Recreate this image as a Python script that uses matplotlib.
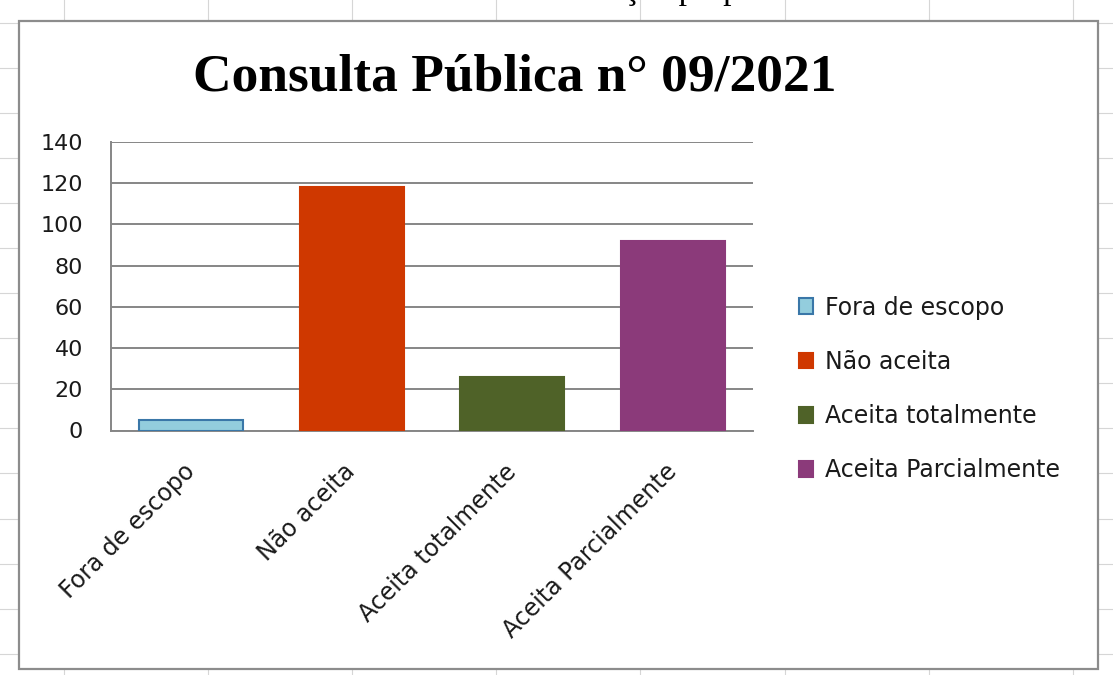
import numpy as np
import matplotlib
matplotlib.use('Agg')
import matplotlib.pyplot as plt
from matplotlib.patches import Rectangle
from matplotlib.lines import Line2D

# dados do gráfico
categorias = ['Fora de escopo', 'Não aceita', 'Aceita totalmente', 'Aceita Parcialmente']
valores = [5, 118, 26, 92]
cores = ['#93CDDD', '#CF3800', '#4F6228', '#8B3A7A']
bordas = ['#3A77A8', '#CF3800', '#4F6228', '#8B3A7A']
titulo = 'Consulta Pública n° 09/2021'
yticks = [0, 20, 40, 60, 80, 100, 120, 140]

W, H = 1113, 675
fig = plt.figure(figsize=(W / 100, H / 100), dpi=100)
fig.patch.set_facecolor('white')

# linhas da planilha no fundo
for yy in np.arange(22.5, H, 45.1):
    fig.add_artist(Line2D([0, 1], [1 - yy / H] * 2, transform=fig.transFigure,
                          color='#d6d6d6', lw=0.8, zorder=-5))
for xx in np.arange(64, W, 144.1):
    fig.add_artist(Line2D([xx / W] * 2, [0, 1], transform=fig.transFigure,
                          color='#d6d6d6', lw=0.8, zorder=-5))

# caixa do gráfico
fig.add_artist(Rectangle((19 / W, 1 - 669 / H), (1098 - 19) / W, (669 - 21) / H,
                         transform=fig.transFigure, facecolor='white',
                         edgecolor='#8c8c8c', lw=1.6, zorder=-1))

# texto cortado no topo (linha de cima da planilha, só aparecem as descendentes)
fig.text(624 / W, 1 + 1.5 / H, 'ção proposta', family='Liberation Serif',
         fontsize=24, ha='left', va='baseline', color='black')

ax = fig.add_axes([111 / W, 1 - 430.5 / H, (753 - 111) / W, (430.5 - 142) / H])
ax.set_facecolor('none')

x = np.arange(len(categorias))
barras = ax.bar(x, valores, width=0.65, color=cores, edgecolor=bordas,
                linewidth=1.5, zorder=3)

ax.set_xlim(-0.5, 3.5)
ax.set_ylim(0, 140)
ax.set_yticks(yticks)
ax.set_yticklabels([str(v) for v in yticks], family='DejaVu Sans', fontsize=16,
                   color='#1a1a1a')
ax.set_xticks(x)
ax.set_xticklabels(categorias, rotation=45, ha='right', va='center',
                   rotation_mode='anchor', family='DejaVu Sans', fontsize=17,
                   color='#1a1a1a')
ax.tick_params(axis='y', length=0, pad=20)
ax.tick_params(axis='x', length=0, pad=27)

ax.grid(axis='y', color='#868686', lw=1.4, zorder=1)
ax.set_axisbelow(True)
for s in ['top', 'right']:
    ax.spines[s].set_visible(False)
for s in ['left', 'bottom']:
    ax.spines[s].set_color('#868686')
    ax.spines[s].set_linewidth(1.4)

# legenda
leg = ax.legend(barras.patches, categorias, loc='center left',
                bbox_to_anchor=(799 / W, 1 - 389 / H), bbox_transform=fig.transFigure,
                frameon=False, borderpad=0, borderaxespad=0,
                handlelength=0.6, handleheight=0.65, handletextpad=0.5,
                labelspacing=1.28, prop={'family': 'DejaVu Sans', 'size': 17})
for t in leg.get_texts():
    t.set_color('#1a1a1a')

fig.text(514.6 / W, 1 - 90.7 / H, titulo, family='Liberation Serif',
         fontweight='bold', fontsize=38.5, ha='center', va='baseline')

fig.savefig('out.png', dpi=100)
